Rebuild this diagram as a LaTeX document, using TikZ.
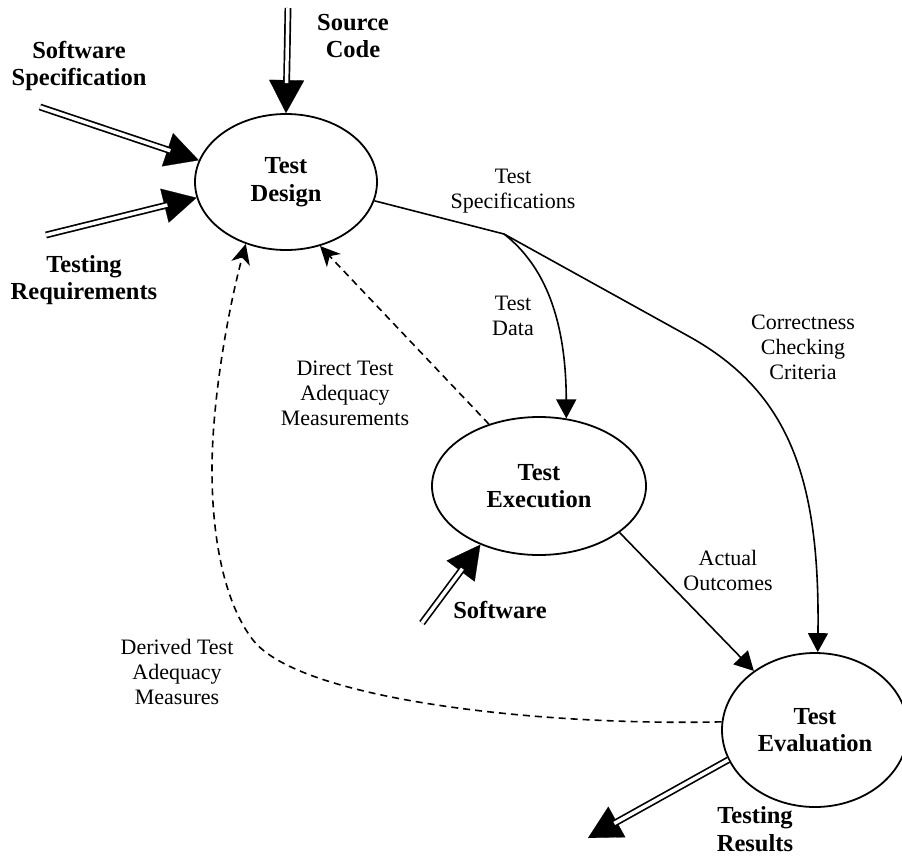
\documentclass[tikz,border=0pt]{standalone}
\usepackage{fontspec}
\setmainfont{Liberation Serif}
\usetikzlibrary{shapes.geometric,arrows.meta,calc}
\newcommand\lblfont{\fontsize{22}{25}\selectfont}
\newcommand\bldfont{\fontsize{24.5}{27.5}\selectfont\bfseries}
\begin{document}
\begin{tikzpicture}[x=1pt,y=-1pt,
  proc/.style={ellipse, draw, line width=1.8pt, inner sep=0pt, align=center, font=\bldfont},
  lbl/.style={align=center, inner sep=0pt, font=\lblfont},
  blbl/.style={align=center, inner sep=0pt, font=\bldfont},
  flow/.style={line width=1.6pt, -{Triangle[length=19pt,width=20pt]}},
  dflow/.style={line width=1.6pt, dash pattern=on 7pt off 5pt, -{Stealth[length=20pt,width=19pt,inset=6pt]}},
  dblshaft/.style={double, line width=1.7pt, double distance=3.5pt, shorten >=30pt},
  bigtip/.style={line width=0.2pt, -{Triangle[length=33pt,width=35pt]}}]
\useasboundingbox[fill=white] (0,0) rectangle (902,855);

% processes
\node[proc, minimum width=182pt, minimum height=136pt] (td) at (286,182) {Test\\Design};
\node[proc, minimum width=214pt, minimum height=138pt] (te) at (539,486) {Test\\Execution};
\node[proc, minimum width=186pt, minimum height=154pt] (tev) at (815,730) {Test\\Evaluation};

% free ends
\coordinate (sc) at (288,8);
\coordinate (ss) at (40,107);
\coordinate (tr) at (46,235);
\coordinate (sw) at (422,623);
\coordinate (trs) at (588,838);
\coordinate (tsp) at (504,234);

% double input/output arrows
\draw[bigtip] (sc) -- (td.90);
\draw[dblshaft] (sc) -- (td.90);
\draw[bigtip] (ss) -- (td.166);
\draw[dblshaft] (ss) -- (td.166);
\draw[bigtip] (tr) -- (td.190);
\draw[dblshaft] (tr) -- (td.190);
\draw[bigtip] (sw) -- (te.225);
\draw[dblshaft] (sw) -- (te.225);
\draw[bigtip] (tev.199) -- (trs);
\draw[dblshaft] (tev.199) -- (trs);

% test specifications
\draw[line width=1.6pt] (td.-12) -- (tsp);
\draw[flow] (tsp) .. controls (545,266) and (566,320) .. (te.68);
\draw[flow] (tsp) -- (690,337) .. controls (790,393) and (820,480) .. (tev.88);
\draw[flow] (te.-30) -- (tev.136);

% feedback
\draw[dflow] (te.129) -- (td.-62);
\draw[dflow] (tev.175) .. controls (540,726) and (300,700) .. (253,640)
             .. controls (225,604) and (212,540) .. (212,470)
             .. controls (212,400) and (228,310) .. (td.237);

% labels
\node[blbl] (lsc) at (353,36) {Source\\Code};
\node[blbl] (lss) at (79,66) {Software\\Specification};
\node[blbl] (ltr) at (84,280) {Testing\\Requirements};
\node[lbl] (lts) at (513,191) {Test\\Specifications};
\node[lbl] (ltd) at (513,316) {Test\\Data};
\node[lbl] (lcc) at (803,347) {Correctness\\Checking\\Criteria};
\node[lbl] (ldt) at (345,393) {Direct Test\\Adequacy\\Measurements};
\node[lbl] (lao) at (728,570) {Actual\\Outcomes};
\node[blbl] (lsw) at (500,610) {Software};
\node[lbl] (ldv) at (177,672) {Derived Test\\Adequacy\\Measures};
\node[blbl] (lres) at (755,829) {Testing\\Results};
\end{tikzpicture}
\end{document}
